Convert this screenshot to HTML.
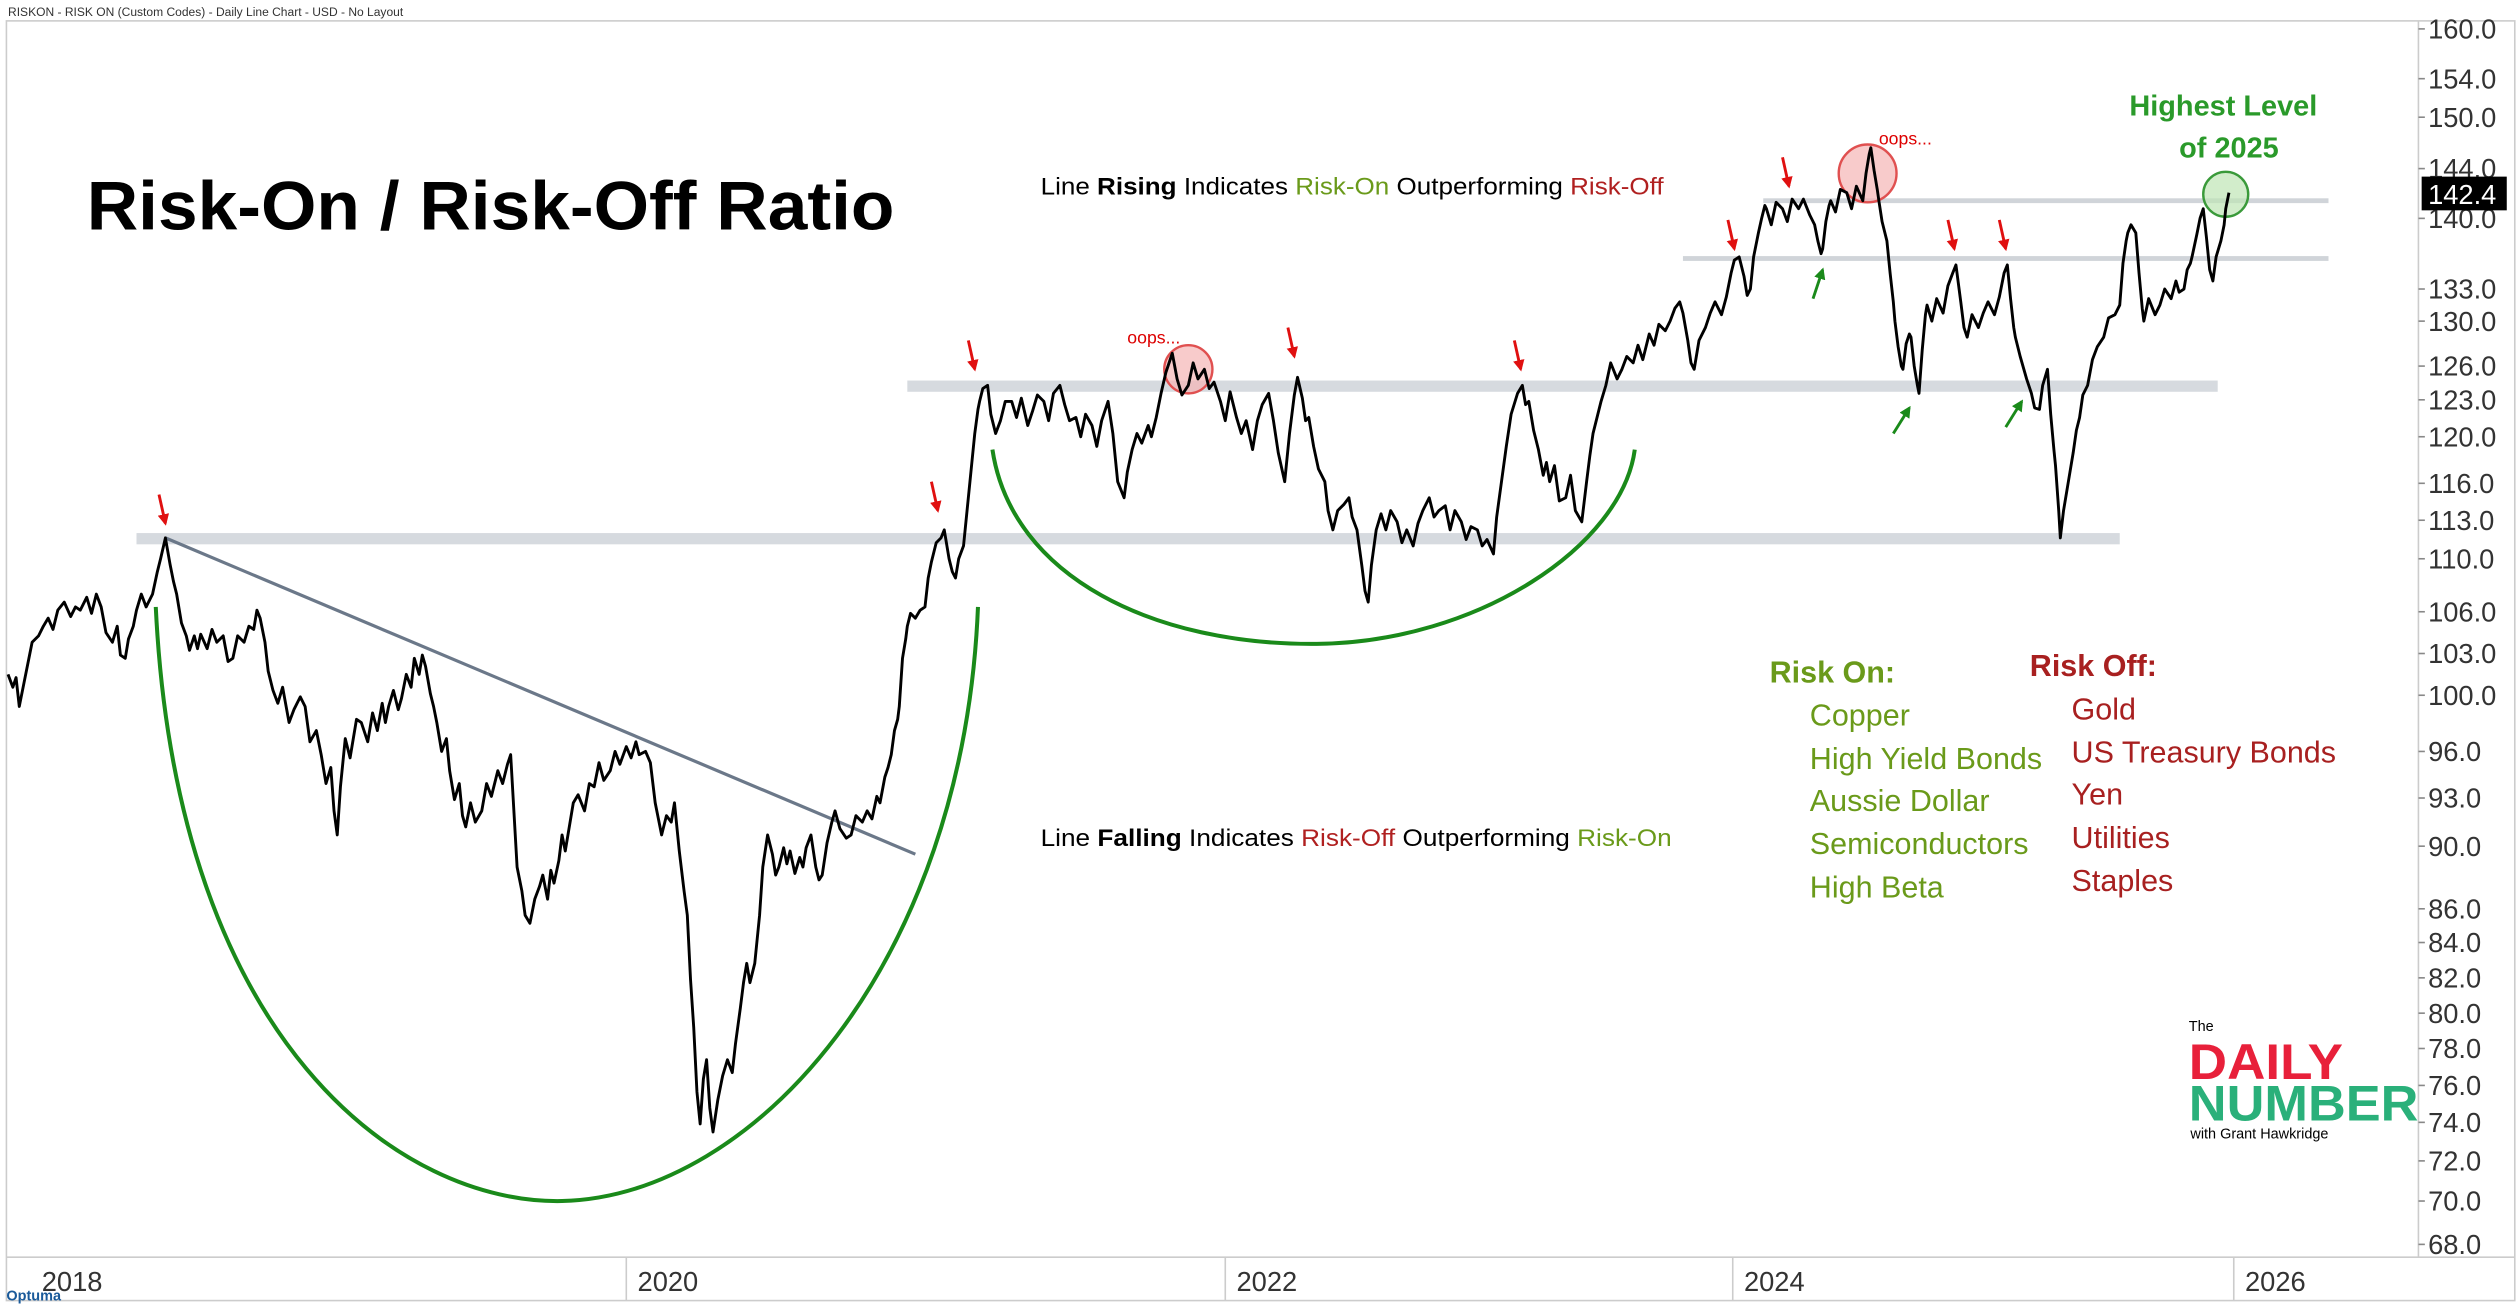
<!DOCTYPE html>
<html><head><meta charset="utf-8"><style>
html,body{margin:0;padding:0;background:#fff;}
svg{display:block;}
text{font-family:"Liberation Sans",sans-serif;}
</style></head><body>
<svg width="2518" height="1307" viewBox="0 0 1568 814" preserveAspectRatio="none" xmlns="http://www.w3.org/2000/svg">
<defs>
<marker id="mr" viewBox="0 0 10 10" refX="8" refY="5" markerWidth="4" markerHeight="4" orient="auto"><path d="M0,0 L10,5 L0,10 z" fill="#e01010"/></marker>
<marker id="mg" viewBox="0 0 10 10" refX="8" refY="5" markerWidth="4" markerHeight="4" orient="auto"><path d="M0,0 L10,5 L0,10 z" fill="#1a8a1a"/></marker>
</defs>
<rect width="1568" height="814" fill="#fff"/>
<text x="5" y="10" font-size="7.5" fill="#333">RISKON - RISK ON (Custom Codes) - Daily Line Chart - USD - No Layout</text>
<rect x="4" y="13" width="1562" height="797" fill="none" stroke="#ccc" stroke-width="1"/>
<line x1="1506" y1="13" x2="1506" y2="783" stroke="#ccc"/>
<line x1="4" y1="783" x2="1566" y2="783" stroke="#ccc"/>
<g stroke="#888">
<line x1="1506" y1="18" x2="1510" y2="18"/><line x1="1506" y1="49" x2="1510" y2="49"/><line x1="1506" y1="73" x2="1510" y2="73"/><line x1="1506" y1="105" x2="1510" y2="105"/><line x1="1506" y1="136" x2="1510" y2="136"/><line x1="1506" y1="180" x2="1510" y2="180"/><line x1="1506" y1="200" x2="1510" y2="200"/><line x1="1506" y1="228" x2="1510" y2="228"/><line x1="1506" y1="249" x2="1510" y2="249"/><line x1="1506" y1="272" x2="1510" y2="272"/><line x1="1506" y1="301" x2="1510" y2="301"/><line x1="1506" y1="324" x2="1510" y2="324"/><line x1="1506" y1="348" x2="1510" y2="348"/><line x1="1506" y1="381" x2="1510" y2="381"/><line x1="1506" y1="407" x2="1510" y2="407"/><line x1="1506" y1="433" x2="1510" y2="433"/><line x1="1506" y1="468" x2="1510" y2="468"/><line x1="1506" y1="497" x2="1510" y2="497"/><line x1="1506" y1="527" x2="1510" y2="527"/><line x1="1506" y1="566" x2="1510" y2="566"/><line x1="1506" y1="587" x2="1510" y2="587"/><line x1="1506" y1="609" x2="1510" y2="609"/><line x1="1506" y1="631" x2="1510" y2="631"/><line x1="1506" y1="653" x2="1510" y2="653"/><line x1="1506" y1="676" x2="1510" y2="676"/><line x1="1506" y1="699" x2="1510" y2="699"/><line x1="1506" y1="723" x2="1510" y2="723"/><line x1="1506" y1="748" x2="1510" y2="748"/><line x1="1506" y1="775" x2="1510" y2="775"/>
</g>
<g font-size="17" fill="#333">
<text x="1512" y="24">160.0</text><text x="1512" y="55">154.0</text><text x="1512" y="79">150.0</text><text x="1512" y="111">144.0</text><text x="1512" y="142">140.0</text><text x="1512" y="186">133.0</text><text x="1512" y="206">130.0</text><text x="1512" y="234">126.0</text><text x="1512" y="255">123.0</text><text x="1512" y="278">120.0</text><text x="1512" y="307">116.0</text><text x="1512" y="330">113.0</text><text x="1512" y="354">110.0</text><text x="1512" y="387">106.0</text><text x="1512" y="413">103.0</text><text x="1512" y="439">100.0</text><text x="1512" y="474">96.0</text><text x="1512" y="503">93.0</text><text x="1512" y="533">90.0</text><text x="1512" y="572">86.0</text><text x="1512" y="593">84.0</text><text x="1512" y="615">82.0</text><text x="1512" y="637">80.0</text><text x="1512" y="659">78.0</text><text x="1512" y="682">76.0</text><text x="1512" y="705">74.0</text><text x="1512" y="729">72.0</text><text x="1512" y="754">70.0</text><text x="1512" y="781">68.0</text>
</g>
<g font-size="17" fill="#333">
<text x="26" y="804">2018</text><text x="397" y="804">2020</text><text x="770" y="804">2022</text><text x="1086" y="804">2024</text><text x="1398" y="804">2026</text>
</g>
<g stroke="#ccc"><line x1="390" y1="783" x2="390" y2="810"/><line x1="763" y1="783" x2="763" y2="810"/><line x1="1079" y1="783" x2="1079" y2="810"/><line x1="1391" y1="783" x2="1391" y2="810"/></g>
<text x="4" y="810" font-size="9" fill="#1a5a9a" font-weight="bold">Optuma</text>
<rect x="565" y="237" width="816" height="7" fill="#d6dadf"/>
<rect x="85" y="332" width="1235" height="7" fill="#d6dadf"/>
<rect x="1098" y="123.5" width="352" height="3" fill="#d0d4d9"/>
<rect x="1048" y="159.5" width="402" height="3" fill="#d0d4d9"/>
<line x1="103" y1="335" x2="570" y2="532" stroke="#6b7889" stroke-width="2"/>
<path d="M97,378 C110,650 250,750 350,748 C470,745 600,600 609,378" fill="none" stroke="#1a8a1a" stroke-width="2.5"/>
<path d="M618,280 C630,360 720,402 820,401 C920,400 1010,340 1018,280" fill="none" stroke="#1a8a1a" stroke-width="2.5"/>
<circle cx="740" cy="230" r="15" fill="#f5b5b5" fill-opacity="0.7" stroke="#e05050" stroke-width="1.5"/>
<circle cx="1163" cy="108" r="18" fill="#f5b5b5" fill-opacity="0.7" stroke="#e05050" stroke-width="1.5"/>
<circle cx="1386" cy="121" r="14" fill="#bfe5b5" fill-opacity="0.7" stroke="#3a9a3a" stroke-width="1.5"/>
<polyline fill="none" stroke="#000" stroke-width="1.8" stroke-linejoin="round" points="5,420 8,428 10,422 12,440 15,425 18,410 20,400 24,396 27,390 30,385 33,392 36,380 40,375 44,384 47,378 50,380 54,372 57,382 60,370 63,378 66,394 70,400 73,390 75,408 78,410 80,398 83,390 85,380 88,370 91,378 95,370 98,356 100,348 103,335 106,352 108,362 110,370 113,388 116,396 118,405 121,396 123,404 125,395 129,404 132,392 135,400 139,396 142,412 145,410 148,396 152,400 155,390 158,392 160,380 162,385 165,400 167,418 170,430 173,438 176,428 180,450 183,442 187,434 190,440 193,462 197,455 200,470 203,488 206,478 208,505 210,520 212,490 215,460 218,472 222,448 225,450 229,462 232,444 235,455 238,438 240,450 242,440 245,430 248,442 250,435 253,420 256,428 258,410 261,420 263,408 265,415 268,432 270,440 272,450 275,468 278,460 280,480 283,498 286,488 288,508 290,515 293,500 296,512 300,505 303,488 306,496 310,480 313,488 316,476 318,470 320,505 322,540 325,555 327,570 330,575 333,560 336,552 338,545 341,560 343,542 345,550 348,536 350,520 352,530 355,512 357,500 360,495 364,505 367,488 370,490 373,475 376,486 380,480 383,468 386,476 390,465 393,472 396,462 398,470 402,468 405,475 408,500 410,510 412,520 415,508 418,512 420,500 423,530 426,555 428,570 430,610 432,640 434,680 436,700 438,672 440,660 442,690 444,705 447,685 450,670 453,660 456,668 458,650 461,628 463,612 465,600 467,612 470,600 473,570 475,540 478,520 481,532 483,545 485,540 488,528 490,538 492,530 495,544 498,534 500,540 502,528 505,520 508,540 510,548 512,545 515,525 518,512 520,505 523,516 527,522 530,520 533,508 537,512 540,505 543,510 546,496 548,500 551,484 553,478 555,470 557,455 559,448 560,440 562,410 564,398 565,390 567,382 570,385 573,380 576,378 578,360 580,350 583,338 586,335 588,330 591,348 593,356 595,360 597,348 600,340 602,320 604,300 605,290 607,270 609,255 610,250 612,242 615,240 617,258 620,270 623,262 626,250 630,250 633,260 636,248 640,265 643,256 646,246 650,250 653,262 656,245 660,240 663,252 666,262 670,260 673,272 676,258 680,265 683,278 686,262 690,250 693,270 696,300 700,310 702,294 705,280 708,270 711,276 715,265 717,272 720,260 723,245 726,232 730,220 733,236 736,246 740,240 743,226 746,236 750,230 753,242 756,238 760,250 763,262 766,244 770,260 773,270 776,262 780,280 783,262 786,252 790,245 793,262 796,282 800,300 803,270 806,246 808,235 811,248 813,262 815,260 818,278 821,292 825,300 827,318 829,326 830,330 833,318 837,314 840,310 842,322 845,330 848,352 850,368 852,375 854,352 857,330 860,320 863,330 866,318 870,325 873,338 876,330 880,340 883,326 886,318 890,310 893,322 896,318 900,315 903,330 906,318 910,325 913,336 916,328 920,330 923,340 926,336 930,345 932,322 935,300 938,278 941,258 945,245 948,240 950,252 952,250 955,268 958,280 961,296 963,288 965,300 968,290 971,312 975,310 978,296 981,318 985,325 988,300 990,284 992,270 995,258 997,250 1000,240 1003,226 1007,236 1010,230 1013,222 1017,226 1020,215 1023,224 1027,208 1030,215 1033,202 1037,206 1040,200 1043,192 1046,188 1048,195 1051,212 1053,226 1055,230 1058,212 1062,204 1065,195 1068,188 1072,196 1075,185 1078,170 1080,162 1083,160 1086,172 1088,184 1090,180 1092,160 1094,150 1095,145 1097,136 1099,128 1100,130 1103,140 1106,126 1110,130 1113,138 1116,124 1120,130 1123,124 1127,134 1130,140 1132,150 1134,158 1135,155 1137,138 1139,128 1140,125 1143,132 1146,118 1150,120 1153,130 1156,116 1160,125 1162,108 1164,96 1165,92 1167,106 1169,118 1170,125 1172,138 1174,146 1175,150 1177,170 1179,188 1180,200 1182,216 1184,228 1185,230 1187,214 1189,208 1190,210 1192,228 1194,240 1195,245 1197,218 1199,196 1200,190 1203,200 1206,186 1210,195 1213,178 1216,170 1218,165 1221,188 1223,204 1225,210 1228,196 1232,204 1235,195 1238,188 1242,196 1245,185 1248,170 1250,165 1252,186 1254,204 1255,210 1258,222 1262,236 1265,245 1267,254 1270,255 1272,240 1275,230 1277,258 1279,280 1280,290 1282,318 1283,335 1285,318 1287,306 1288,300 1291,282 1293,268 1295,260 1297,246 1300,240 1303,224 1306,216 1310,210 1313,198 1317,196 1320,190 1322,164 1324,150 1325,145 1327,140 1330,145 1332,170 1334,192 1335,200 1338,186 1342,196 1345,190 1348,180 1352,186 1355,175 1357,182 1360,180 1362,168 1364,164 1365,160 1368,146 1370,136 1372,130 1374,148 1376,168 1378,175 1380,160 1383,150 1385,140 1386,130 1388,120"/>
<g stroke-width="1.8">
<line x1="99" y1="308" x2="103" y2="326" stroke="#e01010" marker-end="url(#mr)"/>
<line x1="580" y1="300" x2="584" y2="318" stroke="#e01010" marker-end="url(#mr)"/>
<line x1="603" y1="212" x2="607" y2="230" stroke="#e01010" marker-end="url(#mr)"/>
<line x1="802" y1="204" x2="806" y2="222" stroke="#e01010" marker-end="url(#mr)"/>
<line x1="943" y1="212" x2="947" y2="230" stroke="#e01010" marker-end="url(#mr)"/>
<line x1="1076" y1="137" x2="1080" y2="155" stroke="#e01010" marker-end="url(#mr)"/>
<line x1="1110" y1="98" x2="1114" y2="116" stroke="#e01010" marker-end="url(#mr)"/>
<line x1="1213" y1="137" x2="1217" y2="155" stroke="#e01010" marker-end="url(#mr)"/>
<line x1="1245" y1="137" x2="1249" y2="155" stroke="#e01010" marker-end="url(#mr)"/>
<line x1="1129" y1="186" x2="1135" y2="168" stroke="#1a8a1a" marker-end="url(#mg)"/>
<line x1="1179" y1="270" x2="1189" y2="254" stroke="#1a8a1a" marker-end="url(#mg)"/>
<line x1="1249" y1="266" x2="1259" y2="250" stroke="#1a8a1a" marker-end="url(#mg)"/>
</g>
<text x="702" y="214" font-size="11" fill="#d00">oops...</text>
<text x="1170" y="90" font-size="11" fill="#d00">oops...</text>
<text x="54" y="143" font-size="43" font-weight="bold" fill="#000" textLength="503" lengthAdjust="spacingAndGlyphs">Risk-On / Risk-Off Ratio</text>
<text x="648" y="121" font-size="15" fill="#000" textLength="388" lengthAdjust="spacingAndGlyphs">Line <tspan font-weight="bold">Rising</tspan> Indicates <tspan fill="#6a9a1a">Risk-On</tspan> Outperforming <tspan fill="#b02020">Risk-Off</tspan></text>
<text x="648" y="527" font-size="15" fill="#000" textLength="393" lengthAdjust="spacingAndGlyphs">Line <tspan font-weight="bold">Falling</tspan> Indicates <tspan fill="#b02020">Risk-Off</tspan> Outperforming <tspan fill="#6a9a1a">Risk-On</tspan></text>
<text x="1326" y="72" font-size="18" font-weight="bold" fill="#2a9a2a">Highest Level</text>
<text x="1357" y="98" font-size="18" font-weight="bold" fill="#2a9a2a">of 2025</text>
<g fill="#6a9a1a" font-size="19">
<text x="1102" y="425" font-weight="bold">Risk On:</text>
<text x="1127" y="452">Copper</text><text x="1127" y="479">High Yield Bonds</text><text x="1127" y="505">Aussie Dollar</text><text x="1127" y="532">Semiconductors</text><text x="1127" y="559">High Beta</text>
</g>
<g fill="#a82020" font-size="19">
<text x="1264" y="421" font-weight="bold">Risk Off:</text>
<text x="1290" y="448">Gold</text><text x="1290" y="475">US Treasury Bonds</text><text x="1290" y="501">Yen</text><text x="1290" y="528">Utilities</text><text x="1290" y="555">Staples</text>
</g>
<text x="1363" y="642" font-size="9" fill="#000">The</text>
<text x="1363" y="672" font-size="31" font-weight="bold" fill="#e8203a" textLength="96" lengthAdjust="spacingAndGlyphs">DAILY</text>
<text x="1363" y="698" font-size="31" font-weight="bold" fill="#2ab07a" textLength="143" lengthAdjust="spacingAndGlyphs">NUMBER</text>
<text x="1364" y="709" font-size="9" fill="#000">with Grant Hawkridge</text>
<rect x="1508" y="110" width="53" height="21" fill="#000"/>
<text x="1512" y="127" font-size="17" fill="#fff">142.4</text>
</svg>
</body></html>
